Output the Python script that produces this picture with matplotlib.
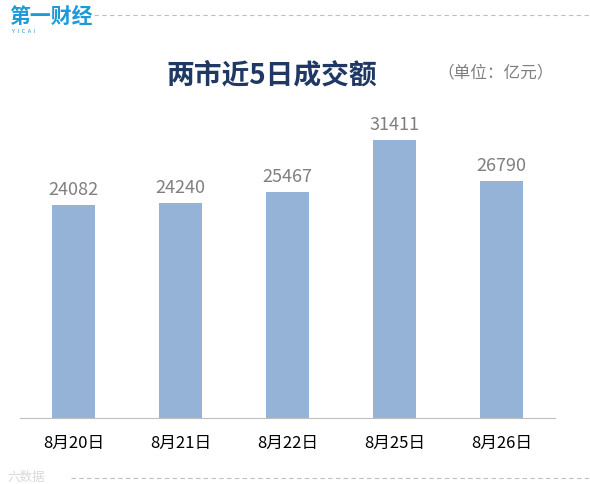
import matplotlib.pyplot as plt
from matplotlib.lines import Line2D

plt.rcParams['font.family'] = ['Noto Sans CJK SC', 'DejaVu Sans']

dates = ["8月20日", "8月21日", "8月22日", "8月25日", "8月26日"]
turnover = [24082, 24240, 25467, 31411, 26790]

fig = plt.figure(figsize=(5.9, 4.84), dpi=100)
ax = fig.add_axes([0.034, 0.136, 0.907, 0.641])

x = range(len(dates))
bars = ax.bar(x, turnover, width=0.4, color="#95B3D7")
for b, v in zip(bars, turnover):
    ax.text(b.get_x() + b.get_width() / 2, v + 700, str(v),
            ha="center", va="bottom", fontsize=13, color="#7F7F7F")

ax.set_xlim(-0.5, 4.5)
ax.set_ylim(0, 35000)
ax.set_xticks(list(x))
ax.set_xticklabels(dates, fontsize=12)
ax.tick_params(axis="x", length=0, pad=12)
ax.set_yticks([])
for s in ["top", "right", "left"]:
    ax.spines[s].set_visible(False)
ax.spines["bottom"].set_color("#BFBFBF")

# title and unit
fig.text(0.46, 0.845, "两市近5日成交额", ha="center", va="center",
         fontsize=20, fontweight="bold", color="#1F3864")
fig.text(0.84, 0.85, "（单位：亿元）", ha="center", va="center",
         fontsize=12, color="#7F7F7F")

# logo
fig.text(0.015, 0.965, "第一财经", ha="left", va="center",
         fontsize=15, fontweight="bold", color="#1E9BD7")
fig.text(0.02, 0.935, "Y  I  C  A  I", ha="left", va="center",
         fontsize=4, color="#1E9BD7")
fig.add_artist(Line2D([0.16, 1.0], [0.968, 0.968], transform=fig.transFigure,
                      color="#BFBFBF", lw=0.8, ls=(0, (4, 3))))

# bottom watermark
fig.text(0.012, 0.013, "六数据", ha="left", va="center",
         fontsize=9, color="#D9D9D9")
fig.add_artist(Line2D([0.12, 1.0], [0.012, 0.012], transform=fig.transFigure,
                      color="#BFBFBF", lw=0.8, ls=(0, (4, 3))))

fig.savefig("out.png", dpi=100)
